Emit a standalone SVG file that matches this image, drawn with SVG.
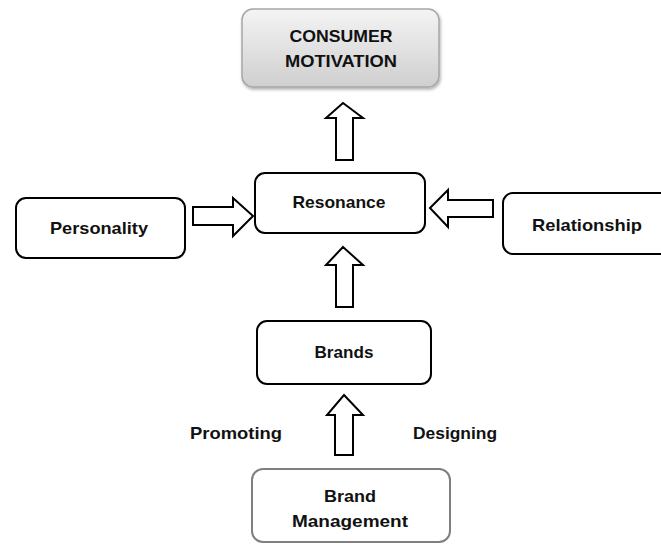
<svg xmlns="http://www.w3.org/2000/svg" width="661" height="545" viewBox="0 0 661 545">
<defs>
<linearGradient id="g1" x1="0" y1="0" x2="0" y2="1">
<stop offset="0" stop-color="#f4f4f4"/>
<stop offset="1" stop-color="#cfcfcf"/>
</linearGradient>
<filter id="sh" x="-10%" y="-10%" width="120%" height="130%">
<feDropShadow dx="1" dy="2" stdDeviation="1.5" flood-color="#000" flood-opacity="0.3"/>
</filter>
<style>
.box{fill:#fff;stroke:#000;stroke-width:2}
.t{font-family:"Liberation Sans",Arial,sans-serif;font-weight:bold;font-size:17px;fill:#111;text-anchor:middle}
.arr{fill:#fff;stroke:#000;stroke-width:2;stroke-linejoin:miter}
</style>
</defs>
<rect width="661" height="545" fill="#fff"/>
<g id="connectors">
<polygon class="arr" points="343,103 363,118 353,118 353,160 336,160 336,118 326,118"/>
<polygon class="arr" points="343,247 363,265 353,265 353,307 336,307 336,265 326,265"/>
<polygon class="arr" points="344,395 363,415 353,415 353,455 335,455 335,415 327,415"/>
<polygon class="arr" points="253,216 233,198 233,207 193,207 193,225 233,225 233,236"/>
<polygon class="arr" points="430,208 448,190 448,200 493,200 493,217 448,217 448,227"/>
</g>
<g id="consumer-motivation">
<rect x="242" y="9" width="197" height="78" rx="11" fill="url(#g1)" stroke="#a6a6a6" stroke-width="1.5" filter="url(#sh)"/>
<text class="t" x="341" y="42" font-size="17" textLength="103" lengthAdjust="spacingAndGlyphs">CONSUMER</text>
<text class="t" x="341" y="67" font-size="17" textLength="112" lengthAdjust="spacingAndGlyphs">MOTIVATION</text>
</g>
<g id="resonance">
<rect class="box" x="255" y="173" width="170" height="60" rx="10"/>
<text class="t" x="339" y="208" textLength="93" lengthAdjust="spacingAndGlyphs">Resonance</text>
</g>
<g id="personality">
<rect class="box" x="16" y="198" width="169" height="60" rx="10"/>
<text class="t" x="99" y="234" textLength="98" lengthAdjust="spacingAndGlyphs">Personality</text>
</g>
<g id="relationship">
<rect class="box" x="503" y="193" width="170" height="61" rx="10"/>
<text class="t" x="587" y="231" textLength="110" lengthAdjust="spacingAndGlyphs">Relationship</text>
</g>
<g id="brands">
<rect class="box" x="257" y="321" width="174" height="63" rx="10"/>
<text class="t" x="344" y="358" textLength="59" lengthAdjust="spacingAndGlyphs">Brands</text>
</g>
<g id="brand-management">
<rect x="252" y="469" width="198" height="73" rx="11" fill="#fff" stroke="#7f7f7f" stroke-width="2"/>
<text class="t" x="350" y="502" textLength="52" lengthAdjust="spacingAndGlyphs">Brand</text>
<text class="t" x="350" y="527" textLength="116" lengthAdjust="spacingAndGlyphs">Management</text>
</g>
<g id="labels">
<text class="t" x="236" y="439" textLength="92" lengthAdjust="spacingAndGlyphs">Promoting</text>
<text class="t" x="455" y="439" textLength="84" lengthAdjust="spacingAndGlyphs">Designing</text>
</g>
</svg>
